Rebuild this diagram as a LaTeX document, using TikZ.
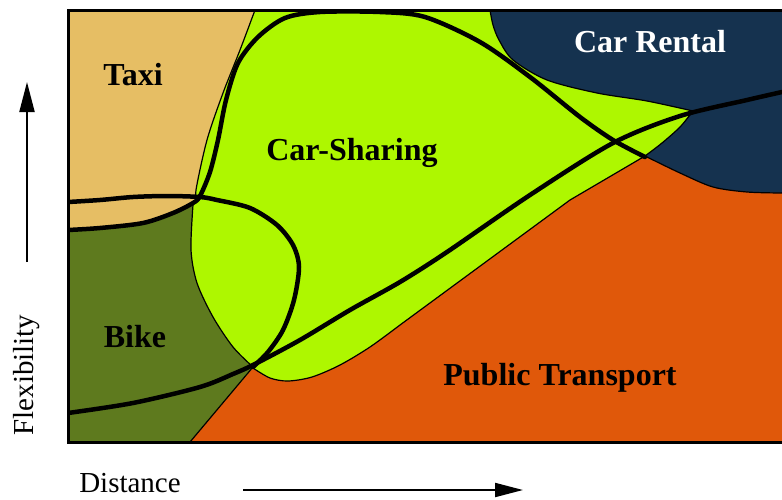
\documentclass[tikz,border=0pt]{standalone}
\usepackage{fontspec}
\setmainfont{Liberation Serif}
\usetikzlibrary{arrows.meta}
\definecolor{taxicol}{HTML}{E6BE64}
\definecolor{limecol}{HTML}{AEF700}
\definecolor{bikecol}{HTML}{5E7A1E}
\definecolor{navycol}{HTML}{15324F}
\definecolor{ptcol}{HTML}{E0580A}
\begin{document}
\begin{tikzpicture}[x=1pt,y=-1pt,
  bigline/.style={line width=4.5pt, line cap=round, line join=round},
  thinedge/.style={line width=1.2pt},
  regionlabel/.style={font=\fontsize{32}{32}\selectfont\bfseries, inner sep=0pt, anchor=base},
  axislabel/.style={font=\fontsize{29}{29}\selectfont, inner sep=0pt},
  axisarrow/.style={line width=2pt, -{Triangle[length=30pt,width=15pt]}}]
\useasboundingbox (0,0) rectangle (782,499);
\begin{scope}
\clip (68,10) rectangle (782,442);
% background = car-sharing
\fill[limecol] (68,10) rectangle (782,442);
% taxi
\fill[taxicol] (68,10) -- (255,10) -- plot[smooth] coordinates {(255,10) (240,50) (223,93) (207,140) (196,190) (198,199)}
  -- plot[smooth] coordinates {(198,199) (193,203) (173,213) (143,223) (100,228) (68,230)} -- cycle;
% bike
\fill[bikecol] (68,230) -- plot[smooth] coordinates {(68,230) (100,228) (143,223) (173,213) (193,203) (198,199)}
  -- plot[smooth] coordinates {(193,205) (191,250) (197,283) (213,317) (233,347) (253,367)} -- (190,442) -- (68,442) -- cycle;
% car rental
\fill[navycol] (490,10) -- plot[smooth] coordinates {(490,10) (493,25) (499,40) (513,60) (547,80) (597,93) (647,101) (693,111)}
  -- plot[smooth] coordinates {(693,111) (680,127) (662,143) (645,156)}
  -- plot[smooth] coordinates {(645,156) (680,173) (713,187) (747,192) (782,193)} -- (782,10) -- cycle;
% public transport
\fill[ptcol] (190,442) -- (253,368) -- plot[smooth] coordinates {(253,368) (270,378) (288,381) (312,377) (340,365) (370,347) (400,325)}
  -- (570,200) -- (645,156) -- plot[smooth] coordinates {(645,156) (680,173) (713,187) (747,192) (782,193)} -- (782,442) -- cycle;
% thin edges
\draw[thinedge] plot[smooth] coordinates {(255,10) (240,50) (223,93) (207,140) (196,190) (198,199)};
\draw[thinedge] plot[smooth] coordinates {(193,205) (191,250) (197,283) (213,317) (233,347) (253,367)} -- (190,442);
\draw[thinedge] plot[smooth] coordinates {(253,368) (270,378) (288,381) (312,377) (340,365) (370,347) (400,325)} -- (570,200) -- (645,156);
\draw[thinedge] plot[smooth] coordinates {(490,10) (493,25) (499,40) (513,60) (547,80) (597,93) (647,101) (693,111)};
\draw[thinedge] plot[smooth] coordinates {(693,111) (680,127) (662,143) (645,156)};
\draw[thinedge] plot[smooth] coordinates {(645,156) (680,173) (713,187) (747,192) (782,193)};
% thick curves
\draw[bigline] plot[smooth] coordinates {(68,230) (100,228) (143,223) (173,213) (193,203) (200,196) (210,172) (218,140) (226,100) (238,63) (258,37) (285,18) (320,12) (380,12) (425,17) (480,42) (530,77) (580,117) (613,140) (645,157)};
\draw[bigline] plot[smooth] coordinates {(68,202) (100,200) (133,197) (167,196) (200,197) (217,200) (250,208) (277,225) (293,245) (299,267) (294,300) (283,330) (268,352) (253,367)};
\draw[bigline] plot[smooth] coordinates {(68,413) (133,403) (200,387) (233,374) (255,364) (300,340) (350,310) (400,282) (447,252) (530,195) (613,143) (680,116) (747,100) (782,92)};
\end{scope}
% frame
\draw[line width=3pt] (782,10) -- (68,10) -- (68,442) -- (782,442);
% labels
\node[regionlabel] (taxi) at (133,85) {Taxi};
\node[regionlabel] (carsharing) at (352,160) {Car-Sharing};
\node[regionlabel, text=white] (carrental) at (650,52) {Car Rental};
\node[regionlabel] (bike) at (135,347) {Bike};
\node[regionlabel] (public) at (560,385) {Public Transport};
% axes
\coordinate (vbot) at (27,262);
\coordinate (vtop) at (27,82);
\draw[axisarrow] (vbot) -- (vtop);
\coordinate (hleft) at (243,490);
\coordinate (hright) at (523,490);
\draw[axisarrow, -{Triangle[length=28pt,width=14pt]}] (hleft) -- (hright);
\node[axislabel, rotate=90] (flex) at (27,375) {Flexibility};
\node[axislabel, anchor=base] (dist) at (130,492) {Distance};
\end{tikzpicture}
\end{document}
